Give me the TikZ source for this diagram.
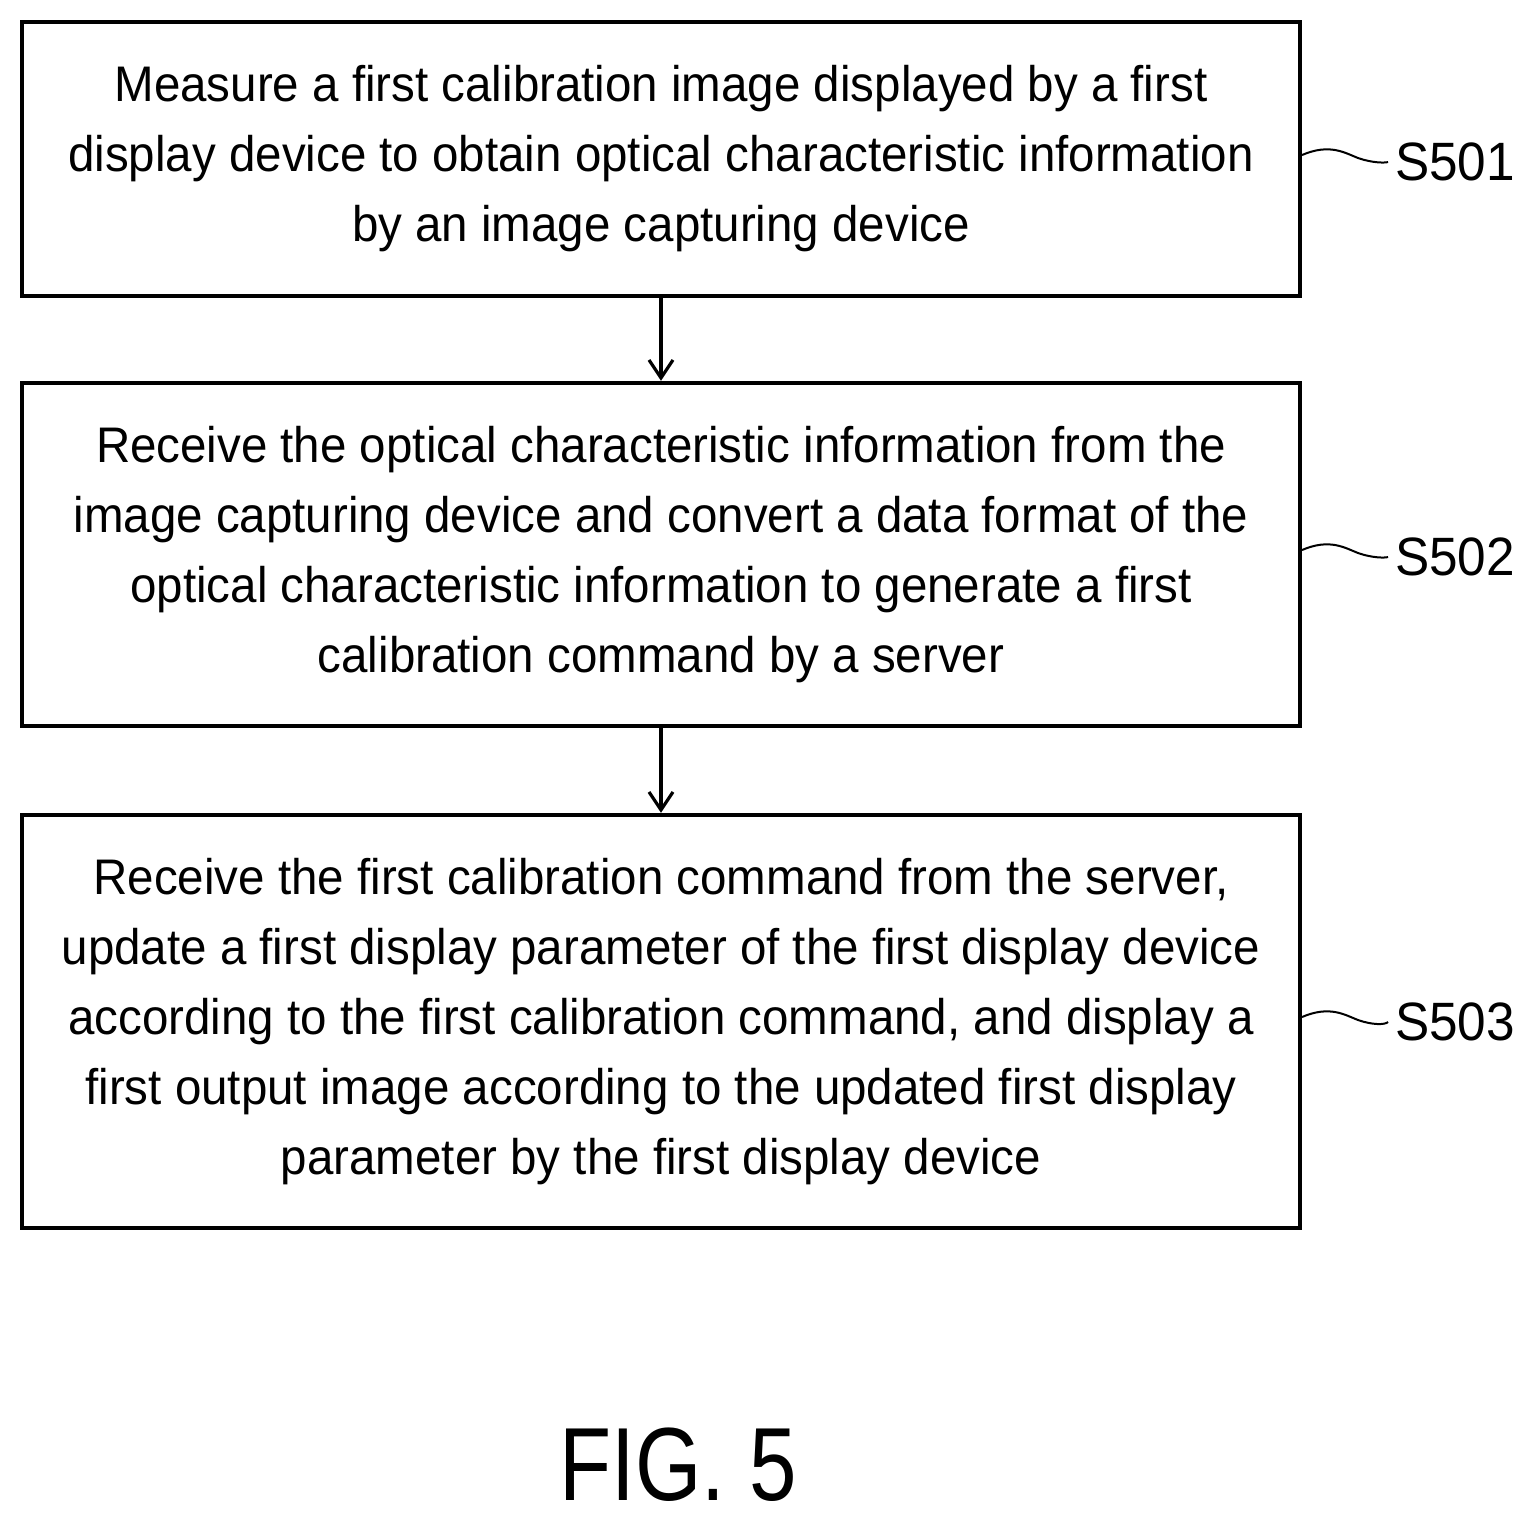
\documentclass[tikz,border=0pt]{standalone}
\usepackage{fontspec}
\setmainfont[FakeStretch=0.95]{Liberation Sans}
\newfontfamily\figfont[FakeStretch=0.82]{Liberation Sans}
\usetikzlibrary{arrows.meta}
\begin{document}
\begin{tikzpicture}[x=0.5pt,y=-0.5pt,
  stepbox/.style={draw,line width=2.2pt,align=center,inner sep=0pt,minimum width=639pt,font=\fontsize{25}{35}\selectfont},
  lab/.style={font=\fontsize{27}{30}\selectfont,anchor=center},
  arr/.style={->,line width=1.6pt,>={Straight Barb[length=9pt,width=12pt]}}]
\useasboundingbox (0,0) rectangle (1534,1527);
\node[stepbox,minimum height=137pt] (b1) at (661,159) {Measure a first calibration image displayed by a first\\display device to obtain optical characteristic information\\by an image capturing device};
\node[stepbox,minimum height=171.5pt] (b2) at (661,554.5) {Receive the optical characteristic information from the\\image capturing device and convert a data format of the\\optical characteristic information to generate a first\\calibration command by a server};
\node[stepbox,minimum height=206.5pt] (b3) at (661,1021.5) {Receive the first calibration command from the server,\\update a first display parameter of the first display device\\according to the first calibration command, and display a\\first output image according to the updated first display\\parameter by the first display device};
\draw[arr] (b1.south) -- (b2.north);
\draw[arr] (b2.south) -- (b3.north);
\node[lab] (s1) at (1455,162) {S501};
\node[lab] (s2) at (1455,557) {S502};
\node[lab] (s3) at (1455,1022) {S503};
\foreach \y/\s in {155/s1,550/s2,1017/s3}{
  \draw[line width=1pt] (1302,\y) .. controls (1330,\y-12) and (1345,\y-2) .. (1358,\y+3) .. controls (1372,\y+8) and (1385,\y+8) .. (\s.west);
}
\node[font=\figfont\fontsize{52}{56}\selectfont] (fig) at (678,1465) {FIG. 5};
\end{tikzpicture}
\end{document}
